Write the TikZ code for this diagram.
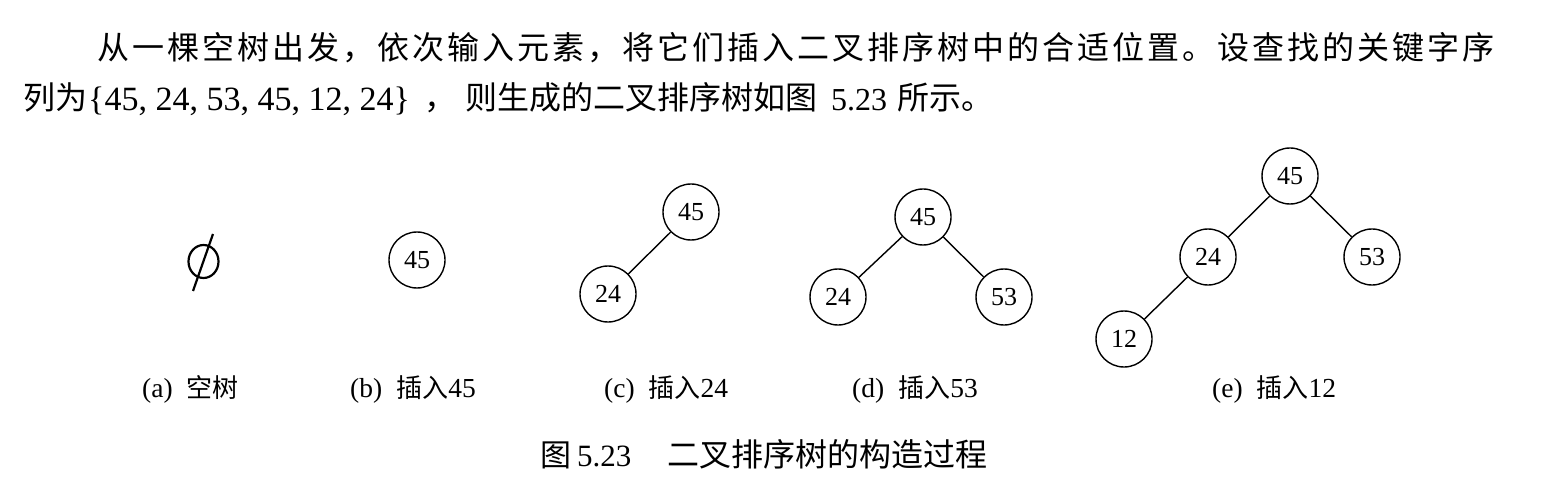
\documentclass[tikz,border=0pt]{standalone}
\usepackage{fontspec}
\setmainfont{Liberation Serif}
\newfontfamily\cjk{Noto Sans CJK SC}
\newcommand\labcjk{\cjk\fontsize{26}{26}\selectfont}
\newcommand\labfont{\fontsize{27.5}{27.5}\selectfont}
\newcommand\bodycjk{\cjk\fontsize{32}{32}\selectfont}
\begin{document}
\begin{tikzpicture}[x=1pt,y=-1pt,
  key/.style={circle,draw,line width=1.4pt,minimum size=56pt,inner sep=0pt,font=\fontsize{26}{26}\selectfont},
  link/.style={line width=1.4pt},
  cn/.style={inner sep=0pt,anchor=base west},
  lab/.style={cn,font=\labfont}]
\useasboundingbox[fill=white] (0,0) rectangle (1554,494);

% paragraph
\node[cn] (l1) at (97,60) {\bodycjk\addfontfeature{LetterSpace=9.4}从一棵空树出发，依次输入元素，将它们插入二叉排序树中的合适位置。设查找的关键字序};
\node[cn] (l2a) at (23,110) {\bodycjk 列为};
\node[cn] (l2b) at (88,111) {\fontsize{34}{34}\selectfont\{45, 24, 53, 45, 12, 24\}};
\node[cn] (l2c) at (424,110) {\bodycjk ，};
\node[cn] (l2d) at (465,110) {\bodycjk 则生成的二叉排序树如图};
\node[cn] (l2e) at (831,111) {\fontsize{32}{32}\selectfont 5.23};
\node[cn] (l2f) at (897,110) {\bodycjk 所示。};

% (a) empty tree
\coordinate (phi) at (203.5,261.5);
\draw[line width=2.2pt] (phi) ellipse [x radius=15, y radius=16.5];
\draw[line width=2.2pt,shift={(phi)}] (-10.5,29.5) -- (9.5,-27.5);

% (b)
\node[key] (b45) at (417,260) {45};

% (c)
\node[key] (c45) at (691,212) {45};
\node[key] (c24) at (608,294) {24};
\draw[link] (c45) -- (c24);

% (d)
\node[key] (d45) at (923,217) {45};
\node[key] (d24) at (838,297) {24};
\node[key] (d53) at (1004,297) {53};
\draw[link] (d45) -- (d24);
\draw[link] (d45) -- (d53);

% (e)
\node[key] (e45) at (1290,176) {45};
\node[key] (e24) at (1208,257) {24};
\node[key] (e53) at (1372,257) {53};
\node[key] (e12) at (1124,339) {12};
\draw[link] (e45) -- (e24);
\draw[link] (e45) -- (e53);
\draw[link] (e24) -- (e12);

% sub-captions
\node[lab] (la) at (142,397) {(a)\hspace{14pt}{\labcjk 空树}};
\node[lab] (lb) at (350,397) {(b)\hspace{14pt}{\labcjk 插入}45};
\node[lab] (lc) at (604,397) {(c)\hspace{14pt}{\labcjk 插入}24};
\node[lab] (ld) at (852,397) {(d)\hspace{14pt}{\labcjk 插入}53};
\node[lab] (le) at (1212,397) {(e)\hspace{14pt}{\labcjk 插入}12};

% caption
\node[cn] (cap1) at (540,466) {\cjk\fontsize{31}{31}\selectfont 图};
\node[cn] (cap2) at (577,466) {\fontsize{31}{31}\selectfont 5.23};
\node[cn] (cap3) at (667,466) {\cjk\fontsize{32}{32}\selectfont 二叉排序树的构造过程};
\end{tikzpicture}
\end{document}
